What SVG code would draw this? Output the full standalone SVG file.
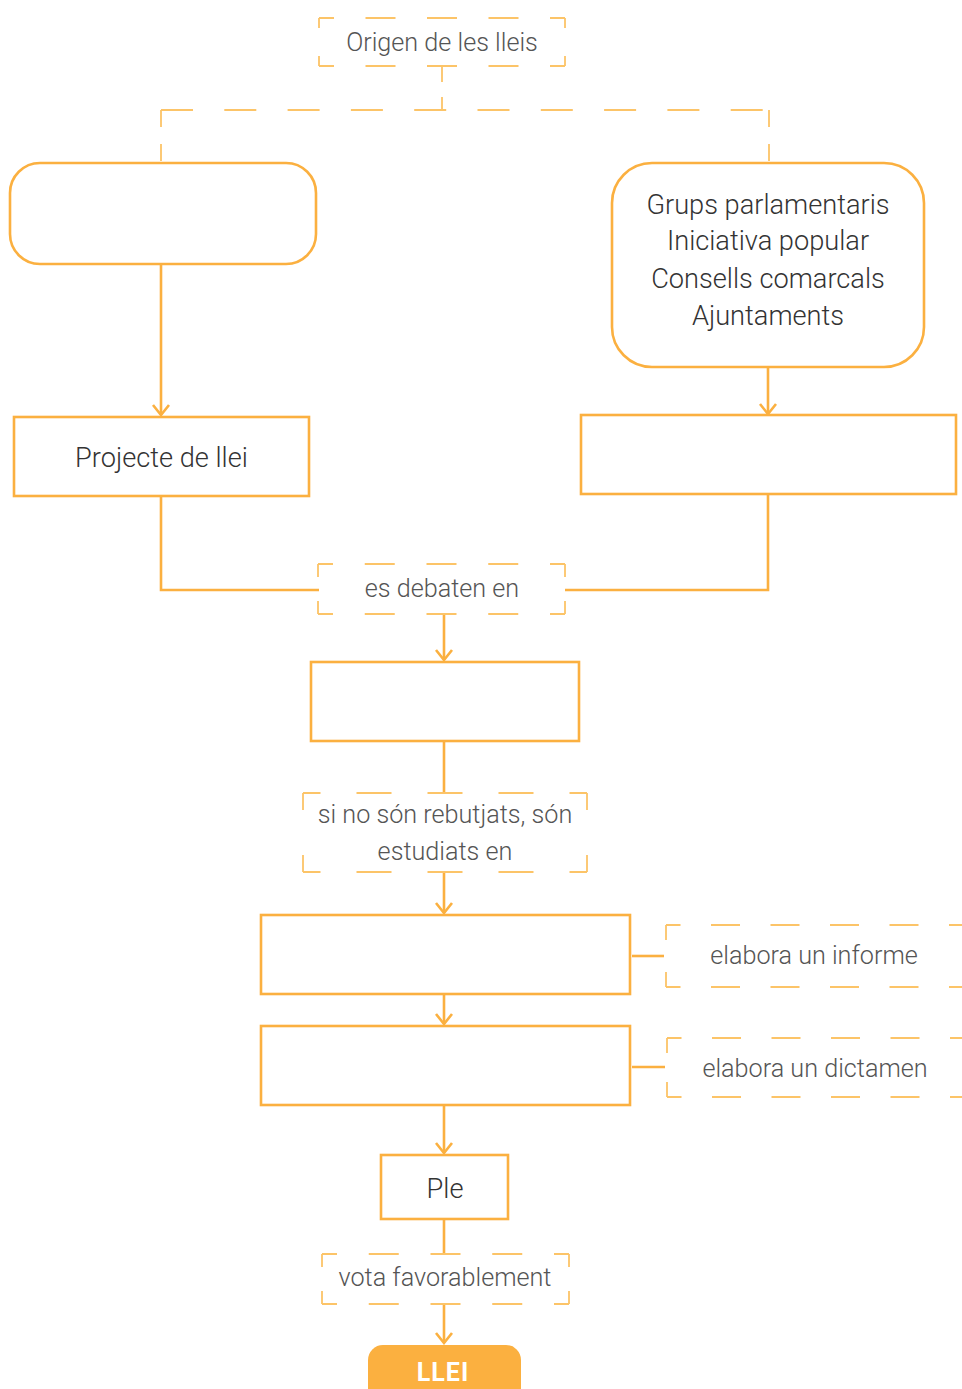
<svg xmlns="http://www.w3.org/2000/svg" width="962" height="1389" viewBox="0 0 962 1389">
<style>
.solid{fill:none;stroke:#FBB040;stroke-width:2.6}
.dash{fill:none;stroke:#FCC468;stroke-width:1.8}
.conn{fill:none;stroke:#FBB040;stroke-width:2.6}
.arrow{fill:none;stroke:#FBB040;stroke-width:2.6;marker-end:url(#chev)}
.node{font-family:Roboto,"Liberation Sans",sans-serif;font-weight:300;font-size:27.2px;fill:#333;text-anchor:middle}
.lbl{font-family:Roboto,"Liberation Sans",sans-serif;font-weight:300;font-size:25.2px;fill:#555;text-anchor:middle}
</style>
<defs>
<marker id="chev" markerUnits="userSpaceOnUse" viewBox="-12 -10 14 20" refX="0" refY="0" markerWidth="14" markerHeight="20" orient="auto">
<path d="M-10,-8 L0,0 L-10,8" fill="none" stroke="#FBB040" stroke-width="2.6"/>
</marker>
</defs>
<rect width="962" height="1389" fill="#fff"/>

<g id="connectors">
<line class="dash" x1="442" y1="67" x2="442" y2="110" stroke-dasharray="15 15"/>
<line class="dash" x1="161" y1="110" x2="769" y2="110" stroke-dasharray="32 31.3"/>
<line class="dash" x1="161" y1="110" x2="161" y2="163" stroke-dasharray="17 17"/>
<line class="dash" x1="769" y1="110" x2="769" y2="163" stroke-dasharray="17 17"/>
<line class="arrow" x1="161" y1="265" x2="161" y2="415"/>
<line class="arrow" x1="768" y1="368" x2="768" y2="414"/>
<path class="conn" d="M161,497 V590 H319"/>
<path class="conn" d="M768,495 V590 H565"/>
<line class="arrow" x1="444" y1="614" x2="444" y2="660"/>
<line class="conn" x1="444" y1="741" x2="444" y2="793"/>
<line class="arrow" x1="444" y1="872" x2="444" y2="913"/>
<line class="conn" x1="632" y1="956" x2="664" y2="956"/>
<line class="arrow" x1="444" y1="995" x2="444" y2="1024"/>
<line class="conn" x1="632" y1="1067" x2="665" y2="1067"/>
<line class="arrow" x1="444" y1="1106" x2="444" y2="1153"/>
<line class="conn" x1="444" y1="1219" x2="444" y2="1254"/>
<line class="arrow" x1="444" y1="1304" x2="444" y2="1343"/>
</g>

<g id="origen">
<line class="dash" x1="319" y1="18" x2="565" y2="18" stroke-dasharray="30 31.5" stroke-dashoffset="15"/>
<line class="dash" x1="319" y1="66" x2="565" y2="66" stroke-dasharray="30 31.5" stroke-dashoffset="15"/>
<line class="dash" x1="319" y1="18" x2="319" y2="66" stroke-dasharray="20 28" stroke-dashoffset="10"/>
<line class="dash" x1="565" y1="18" x2="565" y2="66" stroke-dasharray="20 28" stroke-dashoffset="10"/>
<text class="lbl" x="442" y="51">Origen de les lleis</text>
</g>

<g id="origen-esquerra">
<rect class="solid" x="10" y="163" width="306" height="101" rx="30"/>
</g>

<g id="origen-dreta">
<rect class="solid" x="612" y="163" width="312" height="204" rx="40"/>
<text class="node" x="768" y="213.5">Grups parlamentaris</text>
<text class="node" x="768" y="249.5">Iniciativa popular</text>
<text class="node" x="768" y="287.5">Consells comarcals</text>
<text class="node" x="768" y="324.5">Ajuntaments</text>
</g>

<g id="projecte">
<rect class="solid" x="14" y="417" width="295" height="79"/>
<text class="node" x="161.5" y="467">Projecte de llei</text>
</g>

<g id="proposicio">
<rect class="solid" x="581" y="415" width="375" height="79"/>
</g>

<g id="debaten">
<line class="dash" x1="318" y1="564" x2="565" y2="564" stroke-dasharray="30 31.75" stroke-dashoffset="15"/>
<line class="dash" x1="318" y1="614" x2="565" y2="614" stroke-dasharray="30 31.75" stroke-dashoffset="15"/>
<line class="dash" x1="318" y1="564" x2="318" y2="614" stroke-dasharray="26 24" stroke-dashoffset="13"/>
<line class="dash" x1="565" y1="564" x2="565" y2="614" stroke-dasharray="26 24" stroke-dashoffset="13"/>
<text class="lbl" x="442" y="596.5">es debaten en</text>
</g>

<g id="parlament">
<rect class="solid" x="311" y="662" width="268" height="79"/>
</g>

<g id="estudiats">
<line class="dash" x1="303" y1="793" x2="587" y2="793" stroke-dasharray="35 36" stroke-dashoffset="17.5"/>
<line class="dash" x1="303" y1="872" x2="587" y2="872" stroke-dasharray="35 36" stroke-dashoffset="17.5"/>
<line class="dash" x1="303" y1="793" x2="303" y2="872" stroke-dasharray="34 45" stroke-dashoffset="17"/>
<line class="dash" x1="587" y1="793" x2="587" y2="872" stroke-dasharray="34 45" stroke-dashoffset="17"/>
<text class="lbl" x="445" y="823">si no són rebutjats, són</text>
<text class="lbl" x="445" y="860">estudiats en</text>
</g>

<g id="ponencia">
<rect class="solid" x="261" y="915" width="369" height="79"/>
</g>

<g id="informe">
<line class="dash" x1="666" y1="925" x2="1000" y2="925" stroke-dasharray="29 30.5" stroke-dashoffset="14.5"/>
<line class="dash" x1="666" y1="987" x2="1000" y2="987" stroke-dasharray="29 30.5" stroke-dashoffset="14.5"/>
<line class="dash" x1="666" y1="925" x2="666" y2="987" stroke-dasharray="30 32" stroke-dashoffset="15"/>
<text class="lbl" x="814" y="964">elabora un informe</text>
</g>

<g id="comissio">
<rect class="solid" x="261" y="1026" width="369" height="79"/>
</g>

<g id="dictamen">
<line class="dash" x1="667" y1="1038" x2="1000" y2="1038" stroke-dasharray="29 30.5" stroke-dashoffset="14.5"/>
<line class="dash" x1="667" y1="1097" x2="1000" y2="1097" stroke-dasharray="29 30.5" stroke-dashoffset="14.5"/>
<line class="dash" x1="667" y1="1038" x2="667" y2="1097" stroke-dasharray="30 29" stroke-dashoffset="15"/>
<text class="lbl" x="815" y="1077">elabora un dictamen</text>
</g>

<g id="ple">
<rect class="solid" x="381" y="1155" width="127" height="64"/>
<text class="node" x="445" y="1198">Ple</text>
</g>

<g id="vota">
<line class="dash" x1="322" y1="1254" x2="569" y2="1254" stroke-dasharray="30 31.75" stroke-dashoffset="15"/>
<line class="dash" x1="322" y1="1304" x2="569" y2="1304" stroke-dasharray="30 31.75" stroke-dashoffset="15"/>
<line class="dash" x1="322" y1="1254" x2="322" y2="1304" stroke-dasharray="26 24" stroke-dashoffset="13"/>
<line class="dash" x1="569" y1="1254" x2="569" y2="1304" stroke-dasharray="26 24" stroke-dashoffset="13"/>
<text class="lbl" x="445" y="1286">vota favorablement</text>
</g>

<g id="llei">
<rect x="368" y="1345" width="153" height="60" rx="15" fill="#FBB040"/>
<text x="443" y="1381" font-family="Roboto,'Liberation Sans',sans-serif" font-weight="700" font-size="25" letter-spacing="1" fill="#fff" text-anchor="middle">LLEI</text>
</g>
</svg>
